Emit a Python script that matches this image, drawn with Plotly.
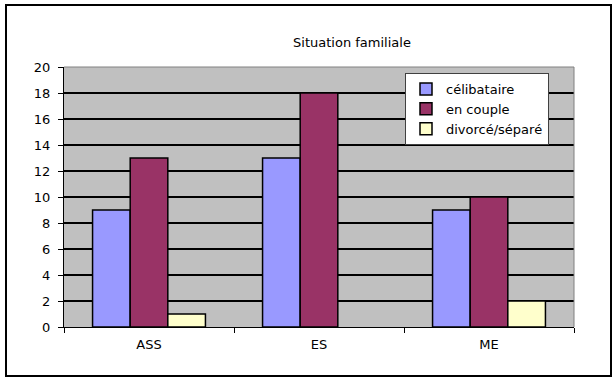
import plotly.graph_objects as go

# Situation familiale par filière
categories = ["ASS", "ES", "ME"]
celibataire = [9, 13, 9]
en_couple = [13, 18, 10]
divorce_separe = [1, 0, 2]
y_ticks = [0, 2, 4, 6, 8, 10, 12, 14, 16, 18, 20]

FONT = "DejaVu Sans"
W, H = 616, 379
L, R, T, B = 64, 42, 67, 52  # plot area margins in px
PW, PH = W - L - R, H - T - B

def px_x(px):
    return (px - L) / PW

def px_y(py):
    return (H - B - py) / PH

fig = go.Figure()
series = [
    ("célibataire", celibataire, "#9999FF"),
    ("en couple", en_couple, "#993366"),
    ("divorcé/séparé", divorce_separe, "#FFFFCC"),
]
for name, vals, color in series:
    fig.add_trace(go.Bar(
        x=categories, y=vals, name=name,
        marker=dict(
            color=color,
            # no outline on empty bars
            line=dict(color="black", width=[1.5 if v > 0 else 0 for v in vals]),
        ),
    ))

fig.update_layout(
    width=W, height=H,
    margin=dict(l=L, r=R, t=T, b=B),
    paper_bgcolor="white",
    plot_bgcolor="#C0C0C0",
    barmode="group",
    bargap=0.336,
    bargroupgap=0,
    font=dict(family=FONT, size=13, color="black"),
    title=dict(
        text="Situation familiale",
        x=352 / W, xanchor="center",
        y=1 - 42 / H, yanchor="middle",
        font=dict(family=FONT, size=13, color="black"),
    ),
    legend=dict(
        x=px_x(405), xanchor="left",
        y=px_y(73), yanchor="top",
        bgcolor="white",
        bordercolor="#404040", borderwidth=1,
        itemwidth=30,
        font=dict(family=FONT, size=13, color="black"),
        tracegroupgap=0,
    ),
    showlegend=True,
)

fig.update_yaxes(
    range=[0, 20],
    tickvals=y_ticks,
    showgrid=True, gridcolor="black", gridwidth=2,
    zeroline=False,
    showline=True, linecolor="black", linewidth=1,
    ticks="outside", ticklen=5, tickcolor="black", tickwidth=1,
    ticklabelstandoff=5,
    tickfont=dict(family=FONT, size=13, color="black"),
)
fig.update_xaxes(
    showgrid=False,
    showline=True, linecolor="black", linewidth=1,
    ticks="outside", ticklen=5, tickcolor="black", tickwidth=1,
    tickson="boundaries",
    ticklabelstandoff=5,
    tickfont=dict(family=FONT, size=13, color="black"),
)

# Plot-area border on the top and right edges
fig.add_shape(type="line", xref="paper", yref="paper", x0=0, x1=1, y0=1, y1=1,
              line=dict(color="#808080", width=1))
fig.add_shape(type="line", xref="paper", yref="paper", x0=1, x1=1, y0=0, y1=1,
              line=dict(color="#808080", width=1))

# Chart frame
fig.add_shape(type="rect", xref="paper", yref="paper",
              x0=px_x(6), x1=px_x(611), y0=px_y(376), y1=px_y(5),
              line=dict(color="black", width=2), fillcolor="rgba(0,0,0,0)")

fig.write_html("out.html")
